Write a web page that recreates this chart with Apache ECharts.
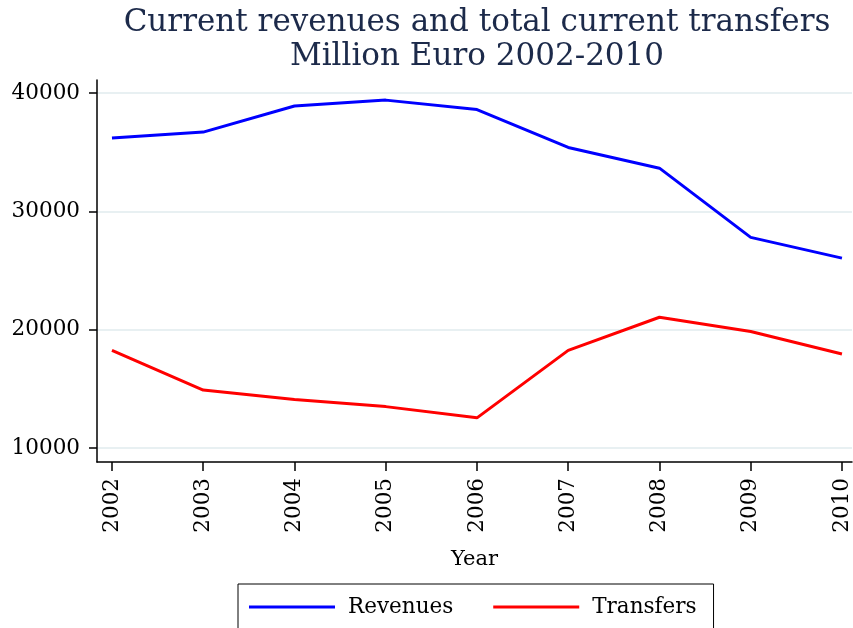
<!DOCTYPE html>
<html>
<head>
<meta charset="utf-8">
<script src="https://cdn.jsdelivr.net/npm/echarts@6/dist/echarts.min.js"></script>
<style>
html, body { margin: 0; padding: 0; background: #fff; }
#chart { width: 853px; height: 628px; }
</style>
</head>
<body>
<div id="chart"></div>
<script>
// data
var years = [2002, 2003, 2004, 2005, 2006, 2007, 2008, 2009, 2010];
var revenues = [36200, 36700, 38900, 39400, 38600, 35400, 33650, 27800, 26050];
var transfers = [18250, 14900, 14100, 13500, 12550, 18250, 21050, 19850, 17950];
var yTicks = [10000, 20000, 30000, 40000];

var serif = '"DejaVu Serif", "Liberation Serif", serif';

function pairs(vals) {
	var out = [];
	for (var i = 0; i < years.length; i++) {
		out.push([years[i], vals[i]]);
	}
	return out;
}

var myChart = echarts.init(document.getElementById('chart'));
var option = {
	animation: false,
	backgroundColor: '#fff',
	title: {
		text: 'Current revenues and total current transfers\nMillion Euro 2002-2010',
		left: 472,
		textAlign: 'center',
		top: 1,
		textStyle: {
			fontFamily: serif,
			fontWeight: 'normal',
			fontSize: 31,
			lineHeight: 34,
			color: '#1c2a4a'
		}
	},
	legend: {
		top: 584,
		left: 238,
		itemWidth: 86,
		itemHeight: 3,
		itemGap: 40,
		padding: [12, 17, 14, 11],
		borderColor: '#000',
		borderWidth: 1,
		icon: 'rect',
		textStyle: {
			fontFamily: serif,
			fontSize: 21.5,
			color: '#000',
			padding: [0, 0, 0, 8]
		},
		data: ['Revenues', 'Transfers']
	},
	grid: {
		left: 97,
		right: 1,
		top: 80,
		bottom: 166
	},
	xAxis: {
		type: 'value',
		min: 2001.836,
		max: 2010.11,
		name: 'Year',
		nameLocation: 'middle',
		nameGap: 87,
		nameTextStyle: { fontFamily: serif, fontSize: 21, color: '#000' },
		axisLine: { lineStyle: { color: '#000', width: 1.5 } },
		axisTick: { customValues: years, length: 9, lineStyle: { color: '#000', width: 1.5 } },
		axisLabel: {
			customValues: years,
			rotate: 90,
			margin: 16,
			fontFamily: serif,
			fontSize: 21.5,
			color: '#000',
			formatter: function(v) { return String(v); }
		},
		splitLine: { show: false }
	},
	yAxis: {
		type: 'value',
		min: 8820,
		max: 41100,
		axisLine: { show: true, lineStyle: { color: '#000', width: 1.5 } },
		axisTick: { show: true, customValues: yTicks, length: 8, lineStyle: { color: '#000', width: 1.5 } },
		axisLabel: {
			customValues: yTicks,
			margin: 17,
			fontFamily: serif,
			fontSize: 21.5,
			color: '#000',
			formatter: function(v) { return String(v); }
		},
		splitLine: { show: true, lineStyle: { color: '#e8f0f2', width: 2 } }
	},
	series: [{
		name: 'Revenues',
		type: 'line',
		data: pairs(revenues),
		showSymbol: false,
		color: '#0000ff',
		lineStyle: { width: 3, color: '#0000ff' }
	}, {
		name: 'Transfers',
		type: 'line',
		data: pairs(transfers),
		showSymbol: false,
		color: '#ff0000',
		lineStyle: { width: 3, color: '#ff0000' }
	}]
};
myChart.setOption(option);
</script>
</body>
</html>
